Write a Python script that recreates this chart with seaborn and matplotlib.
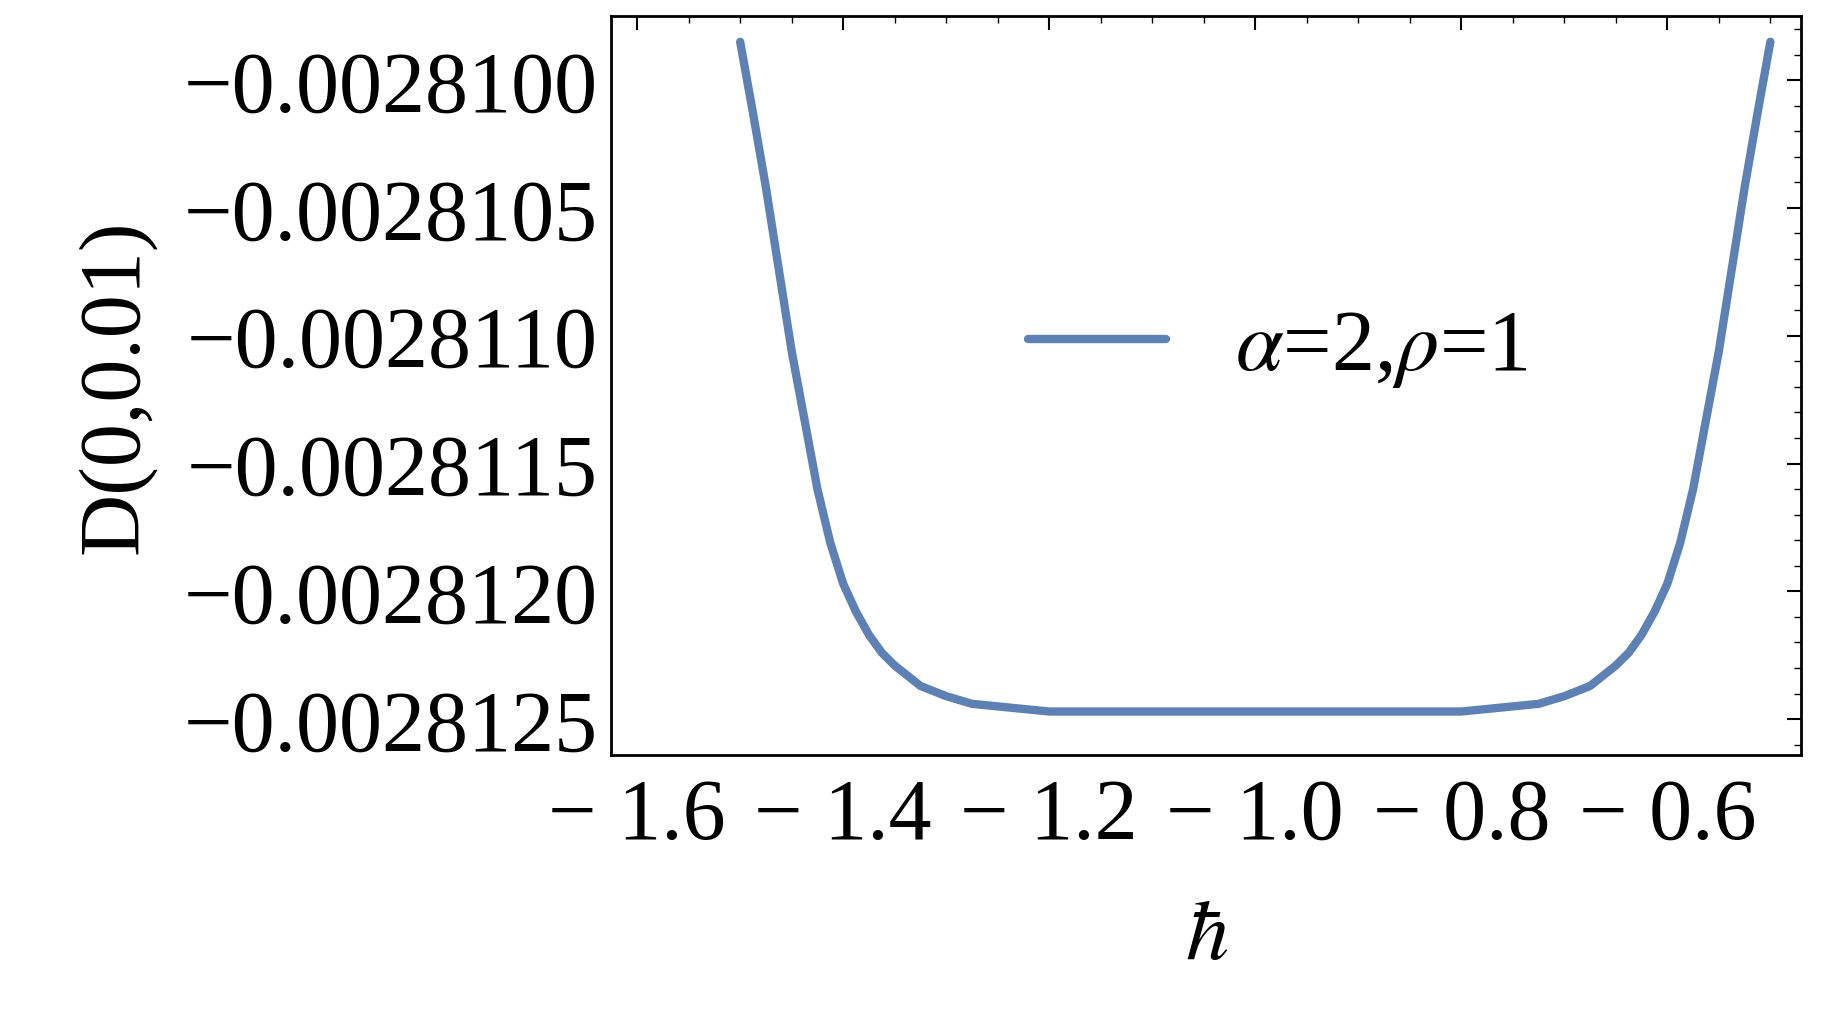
import numpy as np
import pandas as pd
import matplotlib
matplotlib.use("Agg")
import matplotlib.pyplot as plt
import matplotlib.ticker as mticker
import seaborn as sns

# values
hbar = [-1.5, -1.4875, -1.475, -1.4625, -1.45, -1.4375, -1.425, -1.4125, -1.4, -1.3875, -1.375,
        -1.3625, -1.35, -1.325, -1.3, -1.275, -1.25, -1.225, -1.2,
        -1.0,
        -0.8, -0.775, -0.75, -0.725, -0.7, -0.675, -0.65, -0.6375, -0.625, -0.6125, -0.6,
        -0.5875, -0.575, -0.5625, -0.55, -0.5375, -0.525, -0.5125, -0.5]
D = [-0.00280985, -0.00281013, -0.00281042, -0.00281074, -0.00281106, -0.00281133, -0.00281160,
     -0.00281181, -0.00281197, -0.00281208, -0.00281217, -0.00281224, -0.00281229, -0.00281237,
     -0.00281241, -0.00281244, -0.00281245, -0.00281246, -0.00281247,
     -0.00281247,
     -0.00281247, -0.00281246, -0.00281245, -0.00281244, -0.00281241, -0.00281237, -0.00281229,
     -0.00281224, -0.00281217, -0.00281208, -0.00281197, -0.00281181, -0.00281160, -0.00281133,
     -0.00281106, -0.00281074, -0.00281042, -0.00281013, -0.00280985]
label = r"$\alpha$=2,$\rho$=1"

df = pd.DataFrame({"hbar": hbar, "D": D})

sns.set_style("white")
plt.rcParams['font.family'] = ['Liberation Serif', 'DejaVu Serif']
plt.rcParams['mathtext.fontset'] = 'stix'
plt.rcParams['text.color'] = 'black'
plt.rcParams['axes.labelcolor'] = 'black'

fig = plt.figure(figsize=(18.25, 10.12), dpi=100)
ax = fig.add_axes([0.335, 0.253, 0.652, 0.73])
sns.lineplot(data=df, x="hbar", y="D", ax=ax, color="#5e81b5", linewidth=6, label=label)

ax.set_xlim(-1.625, -0.47)
ax.set_ylim(-0.00281264, -0.00280975)
ax.set_xticks([-1.6, -1.4, -1.2, -1.0, -0.8, -0.6])
ax.xaxis.set_major_formatter(mticker.FuncFormatter(lambda v, p: f"{v:.1f}".replace("-", "\u2212 ")))
ax.set_yticks([-0.0028100, -0.0028105, -0.0028110, -0.0028115, -0.0028120, -0.0028125])
ax.yaxis.set_major_formatter(mticker.FuncFormatter(lambda v, p: f"{v:.7f}".replace("-", "\u2212")))
ax.xaxis.set_minor_locator(mticker.AutoMinorLocator(4))
ax.yaxis.set_minor_locator(mticker.AutoMinorLocator(5))
ax.tick_params(which="both", direction="in", top=True, right=True, labelsize=62, colors="black")
ax.tick_params(which="major", length=10, width=1.5)
ax.tick_params(which="minor", length=5, width=1)
ax.tick_params(axis="x", pad=16)
ax.tick_params(axis="y", pad=10)
for s in ax.spines.values():
    s.set_color("black")
    s.set_linewidth(2)

ax.set_xlabel(r"$\hbar$", fontsize=62, labelpad=30, color="black")
ax.set_ylabel("D(0,0.01)", fontsize=62, labelpad=20, color="black")
leg = ax.legend(loc="center", bbox_to_anchor=(0.56, 0.55), frameon=False, fontsize=62,
                handlelength=1.6)
for t in leg.get_texts():
    t.set_color("black")

fig.savefig("out.png", dpi=100)
